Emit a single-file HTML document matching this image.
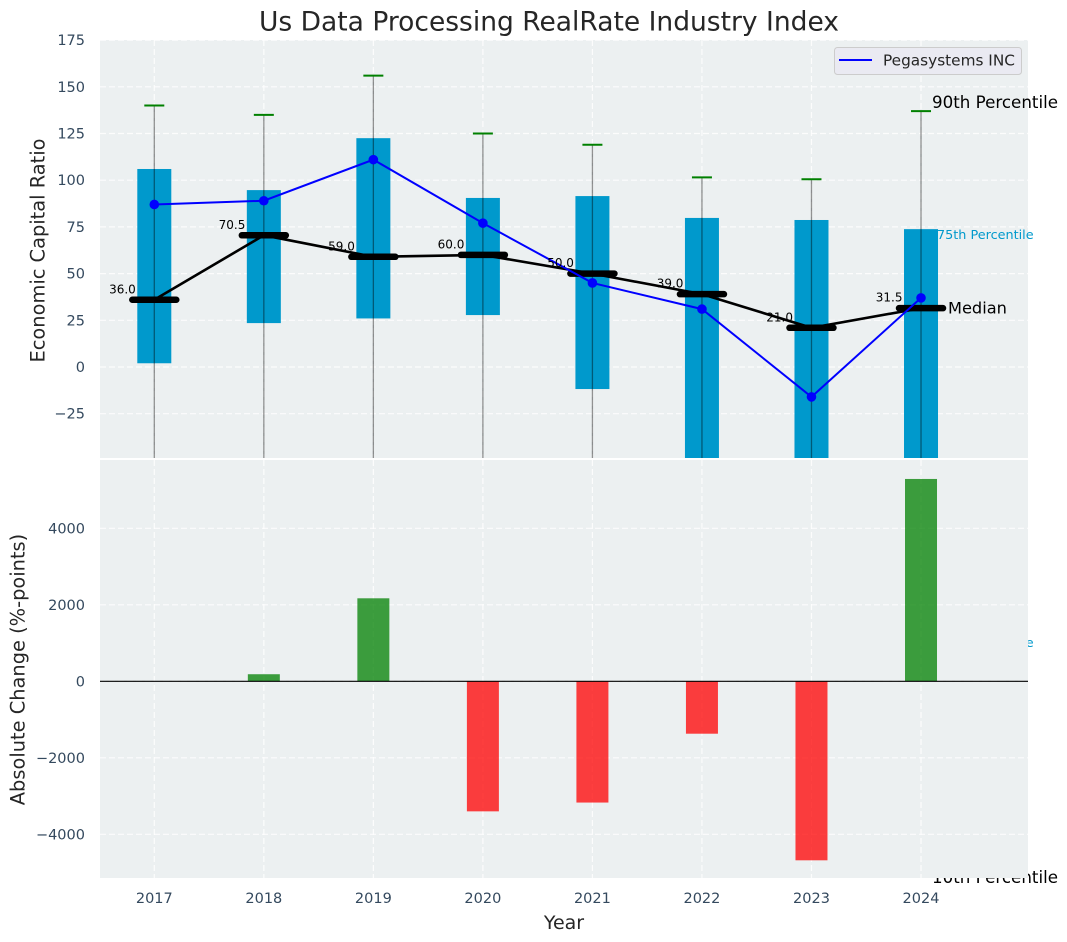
<!DOCTYPE html>
<html>
<head>
<meta charset="utf-8">
<title>Us Data Processing RealRate Industry Index</title>
<style>
html,body{margin:0;padding:0;background:#fff;}
svg{display:block;font-family:"DejaVu Sans","Liberation Sans",sans-serif;}
</style>
</head>
<body>
<svg id="chart" xmlns="http://www.w3.org/2000/svg" width="1067" height="942" viewBox="0 0 1067 942"></svg>
<script>
const years = [2017, 2018, 2019, 2020, 2021, 2022, 2023, 2024];
const p90 = [140, 135, 156, 125, 119, 101.5, 100.5, 137];
const p75 = [106, 94.7, 122.5, 90.5, 91.5, 79.8, 78.7, 73.8];
const medians = [36, 70.5, 59, 60, 50, 39, 21, 31.5];
const p25 = [2, 23.5, 26, 27.8, -11.8, -120, -130, -148];
const p10 = [-200, -200, -200, -200, -200, -220, -240, -273];
const company = [87, 89, 111, 77, 45, 31, -16, 37];
const changes = [0, 185, 2170, -3400, -3170, -1370, -4680, 5290];
const topTicks = [-25, 0, 25, 50, 75, 100, 125, 150, 175];
const bottomTicks = [-4000, -2000, 0, 2000, 4000];

const svg = document.getElementById('chart');
const NS = 'http://www.w3.org/2000/svg';
const tickColor = '#34495e';

function mk(tag, attrs, parent, text) {
  const el = document.createElementNS(NS, tag);
  for (const k in attrs) el.setAttribute(k, attrs[k]);
  if (text !== undefined) el.textContent = text;
  (parent || svg).appendChild(el);
  return el;
}
function fmt(v) { return v < 0 ? '\u2212' + Math.abs(v) : String(v); }

const left = 100, right = 1028;
const topY0 = 40, topY1 = 458, botY0 = 460, botY1 = 878;
function xScale(year) { return 154.3 + (year - 2017) * 109.53; }
function yTop(v) { return 367 - v * 1.868; }
function yBot(v) { return 681.3 - v * 0.03825; }

const defs = mk('defs', {});
const clip = mk('clipPath', {id: 'clip-top'}, defs);
mk('rect', {x: left, y: topY0, width: right - left, height: topY1 - topY0}, clip);
const clipB = mk('clipPath', {id: 'clip-bottom'}, defs);
mk('rect', {x: left, y: botY0, width: right - left, height: botY1 - botY0}, clipB);

/* ---------- top panel ---------- */
const topBg = mk('rect', {x: left, y: topY0, width: right - left, height: topY1 - topY0, fill: '#ecf0f1'});



const topG = mk('g', {'clip-path': 'url(#clip-top)'});



topTicks.forEach(function (t) {
  const g = mk('line', {x1: left, x2: right, y1: yTop(t), y2: yTop(t), stroke: '#fff', 'stroke-width': 1.2, 'stroke-dasharray': '6 3', opacity: 0.85}, topG);
  
  
  const l = mk('text', {x: 85, y: yTop(t) + 1, 'text-anchor': 'end', 'dominant-baseline': 'central', 'font-size': 14.5, fill: tickColor}, svg, fmt(t));
  
  
});
years.forEach(function (yr) {
  const g = mk('line', {x1: xScale(yr), x2: xScale(yr), y1: topY0, y2: topY1, stroke: '#fff', 'stroke-width': 1.2, 'stroke-dasharray': '6 3', opacity: 0.85}, topG);
  
  
});

years.forEach(function (yr, i) {
  const cx = xScale(yr);
  const box = mk('rect', {x: cx - 17, y: yTop(p75[i]), width: 34, height: yTop(p25[i]) - yTop(p75[i]), fill: '#0099cc'}, topG);
  
  
  const wh = mk('line', {x1: cx, x2: cx, y1: yTop(p90[i]), y2: yTop(p10[i]), stroke: '#000', 'stroke-opacity': 0.42, 'stroke-width': 1.3}, topG);
  
  
  const cap = mk('line', {x1: cx - 10, x2: cx + 10, y1: yTop(p90[i]), y2: yTop(p90[i]), stroke: '#008000', 'stroke-width': 2}, topG);
  
  
});

/* off-axes labels that sit under the lower panel */
const lastIdx = years.length - 1;
const lastX = xScale(years[lastIdx]);
const p25Label = mk('text', {x: lastX + 16, y: yTop(p25[lastIdx]), 'dominant-baseline': 'central', 'font-size': 12.8, fill: '#0099cc'}, svg, '25th Percentile');


const p10Label = mk('text', {x: lastX + 11, y: yTop(p10[lastIdx]), 'dominant-baseline': 'central', 'font-size': 16.7, fill: '#000'}, svg, '10th Percentile');



const medianLine = mk('polyline', {points: years.map(function (yr, i) { return xScale(yr) + ',' + yTop(medians[i]); }).join(' '), fill: 'none', stroke: '#000', 'stroke-width': 2.6}, topG);



years.forEach(function (yr, i) {
  const cx = xScale(yr);
  const m = mk('line', {x1: cx - 22, x2: cx + 22, y1: yTop(medians[i]), y2: yTop(medians[i]), stroke: '#000', 'stroke-width': 6.5, 'stroke-linecap': 'round'}, topG);
  
  
  const t = mk('text', {x: cx - 18.5, y: yTop(medians[i]) - 10.5, 'text-anchor': 'end', 'dominant-baseline': 'central', 'font-size': 12, fill: '#000'}, svg, medians[i].toFixed(1));
  
  
});

const companyLine = mk('polyline', {points: years.map(function (yr, i) { return xScale(yr) + ',' + yTop(company[i]); }).join(' '), fill: 'none', stroke: '#0000ff', 'stroke-width': 2}, topG);


years.forEach(function (yr, i) {
  const p = mk('circle', {cx: xScale(yr), cy: yTop(company[i]), r: 4.8, fill: '#0000ff'}, topG);
  
  
});

/* annotations on top panel */
const p90Label = mk('text', {x: lastX + 11, y: yTop(p90[lastIdx]) - 9, 'dominant-baseline': 'central', 'font-size': 16.7, fill: '#000'}, svg, '90th Percentile');


const p75Label = mk('text', {x: lastX + 16, y: yTop(p75[lastIdx]) + 6.5, 'dominant-baseline': 'central', 'font-size': 12.8, fill: '#0099cc'}, svg, '75th Percentile');


const medLabel = mk('text', {x: lastX + 27, y: yTop(medians[lastIdx]), 'dominant-baseline': 'central', 'font-size': 16.2, fill: '#000'}, svg, 'Median');



/* ---------- bottom panel ---------- */
const botBg = mk('rect', {x: left, y: botY0, width: right - left, height: botY1 - botY0, fill: '#ecf0f1'});



const botG = mk('g', {'clip-path': 'url(#clip-bottom)'});



bottomTicks.forEach(function (t) {
  const g = mk('line', {x1: left, x2: right, y1: yBot(t), y2: yBot(t), stroke: '#fff', 'stroke-width': 1.2, 'stroke-dasharray': '6 3', opacity: 0.85}, botG);
  
  
  const l = mk('text', {x: 85, y: yBot(t) + 1, 'text-anchor': 'end', 'dominant-baseline': 'central', 'font-size': 14.5, fill: tickColor}, svg, fmt(t));
  
  
});
years.forEach(function (yr, i) {
  const cx = xScale(yr);
  const g = mk('line', {x1: cx, x2: cx, y1: botY0, y2: botY1, stroke: '#fff', 'stroke-width': 1.2, 'stroke-dasharray': '6 3', opacity: 0.85}, botG);
  
  
  const l = mk('text', {x: cx, y: 899, 'text-anchor': 'middle', 'dominant-baseline': 'central', 'font-size': 14.5, fill: tickColor}, svg, String(yr));
  
  
  const v = changes[i];
  const y1 = yBot(Math.max(v, 0)), y2 = yBot(Math.min(v, 0));
  const b = mk('rect', {x: cx - 16, y: y1, width: 32, height: y2 - y1, fill: v >= 0 ? '#008000' : '#ff0000', 'fill-opacity': 0.75}, botG);
  
  
});
const zero = mk('line', {x1: left, x2: right, y1: yBot(0), y2: yBot(0), stroke: '#000', 'stroke-width': 1.2}, botG);



/* ---------- titles ---------- */
const title = mk('text', {x: 549, y: 22, 'text-anchor': 'middle', 'dominant-baseline': 'central', 'font-size': 26.5, fill: '#262626'}, svg, 'Us Data Processing RealRate Industry Index');


const yt1 = mk('text', {transform: 'translate(38 250.5) rotate(-90)', 'text-anchor': 'middle', 'dominant-baseline': 'central', 'font-size': 19.4, fill: '#262626'}, svg, 'Economic Capital Ratio');


const yt2 = mk('text', {transform: 'translate(18 669.5) rotate(-90)', 'text-anchor': 'middle', 'dominant-baseline': 'central', 'font-size': 19.4, fill: '#262626'}, svg, 'Absolute Change (%-points)');


const xt = mk('text', {x: 564, y: 923, 'text-anchor': 'middle', 'dominant-baseline': 'central', 'font-size': 19, fill: '#262626'}, svg, 'Year');



/* ---------- legend ---------- */
const lg = mk('g', {});


const lgBox = mk('rect', {x: 834.5, y: 47.5, width: 187, height: 27, rx: 3, fill: '#eaeaf2', stroke: '#cccccc', 'stroke-width': 1}, lg);


const lgLine = mk('line', {x1: 839, x2: 872, y1: 60, y2: 60, stroke: '#0000ff', 'stroke-width': 2}, lg);


const lgText = mk('text', {x: 883, y: 60.5, 'dominant-baseline': 'central', 'font-size': 15.3, fill: '#262626'}, lg, 'Pegasystems INC');


</script>
</body>
</html>
